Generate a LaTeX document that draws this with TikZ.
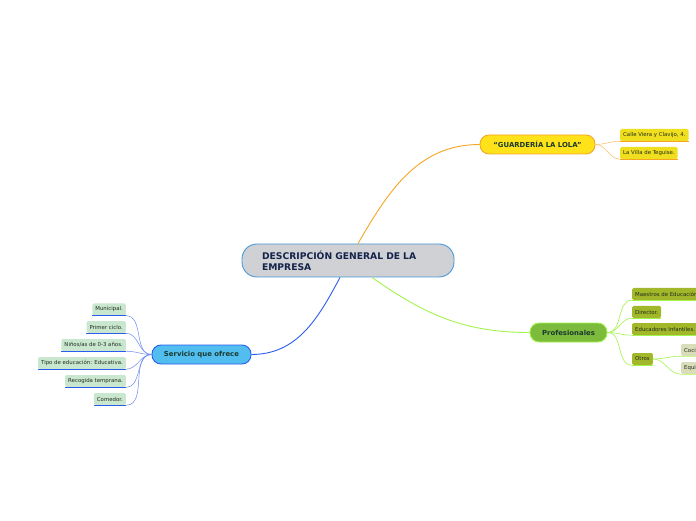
\documentclass[tikz,border=0pt]{standalone}
\usepackage{fontspec}
\setmainfont{DejaVu Sans}
\usetikzlibrary{positioning}
\definecolor{hubfill}{HTML}{D0D1D5}
\definecolor{hubline}{HTML}{4A98D6}
\definecolor{ink}{HTML}{14234A}
\definecolor{topink}{HTML}{1B3A2E}
\definecolor{leafink}{HTML}{222C1C}
\definecolor{orng}{HTML}{F5A524}
\definecolor{orngl}{HTML}{F8C37E}
\definecolor{yel}{HTML}{FFE21A}
\definecolor{yelleaf}{HTML}{F0DF1E}
\definecolor{grn}{HTML}{A2F44A}
\definecolor{grnfill}{HTML}{7CBB3C}
\definecolor{olive}{HTML}{A2B82A}
\definecolor{pale}{HTML}{D9DDB9}
\definecolor{blu}{HTML}{2A5CF0}
\definecolor{blul}{HTML}{6A8AF2}
\definecolor{sky}{HTML}{52BEF0}
\definecolor{mint}{HTML}{C9E7CF}

\begin{document}
\begin{tikzpicture}[x=1pt, y=1pt,
    t/.style={draw, line width=0.9pt, rounded corners=9pt, minimum height=19pt,
      inner sep=0pt, font=\fontsize{6.9}{8}\selectfont\bfseries, text=topink},
    l/.style={rounded corners=1.5pt, minimum height=12pt, inner xsep=3pt, inner ysep=0pt,
      font=\fontsize{5.4}{6}\selectfont, text=leafink}]

    \useasboundingbox (0,0) rectangle (696,520);
    \clip (0,0) rectangle (696,520);

    % centre
    \node[draw=hubline, fill=hubfill, line width=0.9pt, rounded corners=15pt,
      minimum height=33pt, text width=172pt, inner xsep=20pt, align=left,
      font=\fontsize{9.2}{11}\selectfont\bfseries, text=ink] (desc) at (348,259.5)
      {DESCRIPCIÓN GENERAL DE LA\\EMPRESA};

    % main topics
    \node[t, draw=orng, fill=yel, minimum width=115pt]    (guard) at (537.5,375.5) {“GUARDERÍA LA LOLA”};
    \node[t, draw=grn, fill=grnfill, minimum width=77pt] (prof)  at (568.5,187.5) {Profesionales};
    \node[t, draw=blu, fill=sky, minimum width=99pt]     (serv)  at (201.5,165.5) {Servicio que ofrece};

    \draw[orng, line width=0.9pt] ([xshift=10pt]desc.north) to[out=60, in=180] (guard.west);
    \draw[grn, line width=0.9pt] ([xshift=24pt]desc.south) to[out=-35, in=180] (prof.west);
    \draw[blu, line width=0.9pt] ([xshift=-8pt]desc.south) to[out=-118, in=0] (serv.east);

    % leaves
    \node[l, fill=yelleaf, anchor=west] (c1) at (620,385) {Calle Viera y Clavijo, 4.};
    \node[l, fill=yelleaf, anchor=west] (c2) at (620,367) {La Villa de Teguise.};

    \node[l, fill=olive, anchor=west] (m1) at (632,226) {Maestros de Educación Infantil.};
    \node[l, fill=olive, anchor=west] (m2) at (632,208) {Director.};
    \node[l, fill=olive, anchor=west] (m3) at (632,191) {Educadores Infantiles.};
    \node[l, fill=olive, anchor=west] (m4) at (632,161) {Otros};
    \node[l, fill=pale, anchor=west]  (o1) at (681,170) {Cocinera.};
    \node[l, fill=pale, anchor=west]  (o2) at (681,152) {Equipo de limpieza.};

    \node[l, fill=mint, anchor=east] (s1) at (126,210.5) {Municipal.};
    \node[l, fill=mint, anchor=east] (s2) at (126,193)   {Primer ciclo.};
    \node[l, fill=mint, anchor=east] (s3) at (126,175)   {Niños/as de 0-3 años.};
    \node[l, fill=mint, anchor=east] (s4) at (126,157)   {Tipo de educación: Educativa.};
    \node[l, fill=mint, anchor=east] (s5) at (126,139)   {Recogida temprana.};
    \node[l, fill=mint, anchor=east] (s6) at (126,121)   {Comedor.};

    \foreach \c in {c1,c2} {
      \draw[orngl, line width=0.6pt] (guard.east) to[out=0, in=180] (\c.south west);
      \draw[orng, line width=1.2pt] (\c.south west) -- (\c.south east);
    }
    \foreach \m in {m1,m2,m3,m4} {
      \draw[grn, line width=0.6pt] (prof.east) to[out=0, in=180] (\m.south west);
      \draw[grn, line width=1.2pt] (\m.south west) -- (\m.south east);
    }
    \foreach \o in {o1,o2} {
      \draw[grn, line width=0.6pt] (m4.east) to[out=0, in=180] (\o.south west);
      \draw[grn!60, line width=1.2pt] (\o.south west) -- (\o.south east);
    }
    \foreach \s in {s1,s2,s3,s4,s5,s6} {
      \draw[blul, line width=0.5pt] (serv.west) to[out=180, in=0] (\s.south east);
      \draw[blu, line width=1.2pt] (\s.south west) -- (\s.south east);
    }
  \end{tikzpicture}
\end{document}
